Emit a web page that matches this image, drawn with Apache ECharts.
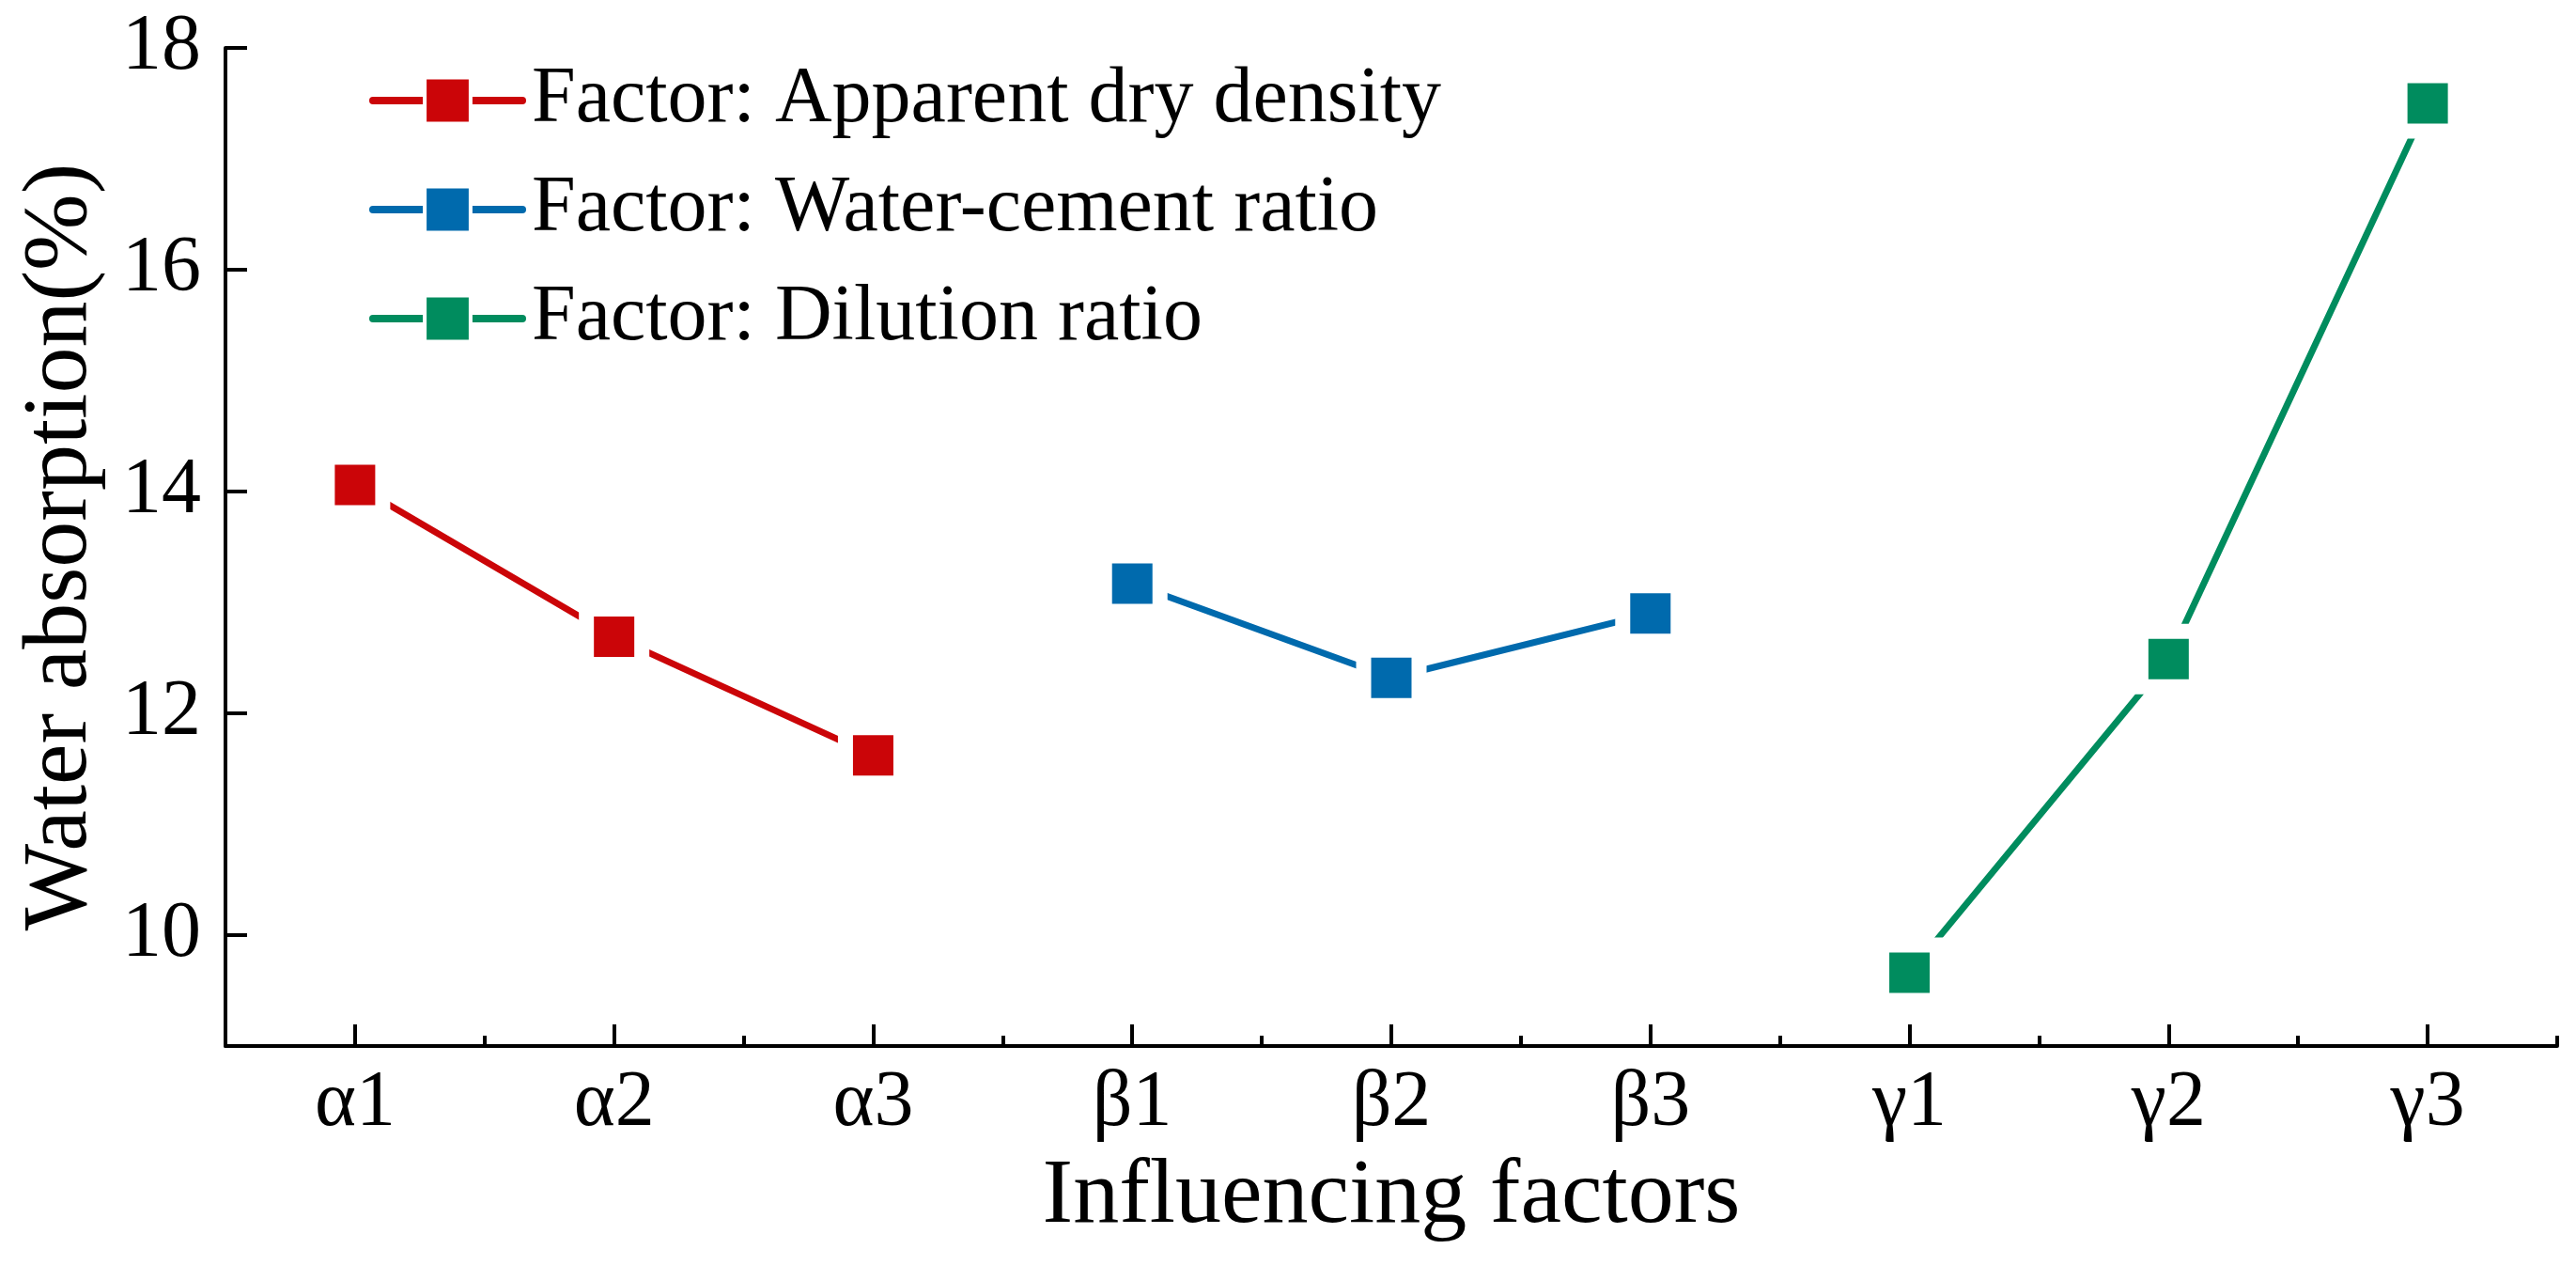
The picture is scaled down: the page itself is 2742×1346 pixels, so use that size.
<!DOCTYPE html>
<html>
<head>
<meta charset="utf-8">
<script src="https://cdn.jsdelivr.net/npm/echarts@6/dist/echarts.min.js"></script>
<style>
html,body{margin:0;padding:0;background:#fff;}
#chart{width:2742px;height:1346px;}
</style>
</head>
<body>
<div id="chart"></div>
<script>
const categories = ['α1','α2','α3','β1','β2','β3','γ1','γ2','γ3'];
const densityValues = [14.06, 12.69, 11.62, null, null, null, null, null, null];
const wcRatioValues = [null, null, null, 13.17, 12.32, 12.90, null, null, null];
const dilutionValues = [null, null, null, null, null, null, 9.66, 12.49, 17.50];
const seriesNames = ['Factor: Apparent dry density', 'Factor: Water-cement ratio', 'Factor: Dilution ratio'];
const seriesColors = ['#CB0508', '#006AAD', '#008C5E'];
const yTicks = [10, 12, 14, 16, 18];

const FONT = '"Liberation Serif", "Times New Roman", serif';
const chart = echarts.init(document.getElementById('chart'));

function mkSeries(name, data, color) {
  return {
    name: name,
    type: 'line',
    data: data,
    connectNulls: false,
    symbol: 'rect',
    symbolSize: 59,
    lineStyle: { color: color, width: 7, cap: 'round' },
    itemStyle: { color: color, borderColor: '#ffffff', borderWidth: 16 },
    emphasis: { disabled: true },
    z: 3
  };
}

chart.setOption({
  animation: false,
  backgroundColor: '#ffffff',
  grid: { left: 240, right: 20, top: 51, bottom: 233, containLabel: false },
  legend: {
    orient: 'vertical',
    left: 388,
    top: 60,
    itemWidth: 159,
    itemHeight: 61,
    itemGap: 32,
    itemStyle: { borderColor: '#ffffff', borderWidth: 4 },
    lineStyle: { width: 8, cap: 'round' },
    textStyle: { fontFamily: FONT, fontSize: 84, color: '#000', padding: [0,0,0,5] },
    data: seriesNames
  },
  xAxis: [
    {
      type: 'category',
      data: categories,
      boundaryGap: true,
      position: 'bottom',
      name: 'Influencing factors',
      nameLocation: 'middle',
      nameGap: 112,
      nameTextStyle: { fontFamily: FONT, fontSize: 98, color: '#000' },
      axisLine: { show: true, lineStyle: { color: '#000', width: 4 } },
      axisTick: { show: true, alignWithLabel: true, inside: true, length: 23, lineStyle: { color: '#000', width: 4 } },
      axisLabel: { fontFamily: FONT, fontSize: 84, color: '#000', margin: 20 },
      splitLine: { show: false }
    },
    {
      type: 'category',
      data: categories,
      boundaryGap: true,
      position: 'bottom',
      axisLine: { show: false },
      axisTick: { show: true, alignWithLabel: false, inside: true, length: 11, lineStyle: { color: '#000', width: 4 } },
      axisLabel: { show: false },
      splitLine: { show: false }
    }
  ],
  yAxis: {
    type: 'value',
    min: 9,
    max: 18,
    interval: 1,
    name: 'Water absorption(%)',
    nameLocation: 'middle',
    nameGap: 126,
    nameTextStyle: { fontFamily: FONT, fontSize: 98, color: '#000' },
    axisLine: { show: true, lineStyle: { color: '#000', width: 4 } },
    axisTick: { show: true, inside: true, length: 23, customValues: yTicks, lineStyle: { color: '#000', width: 4 } },
    axisLabel: { fontFamily: FONT, fontSize: 84, color: '#000', margin: 26, customValues: yTicks },
    splitLine: { show: false }
  },
  series: [
    mkSeries(seriesNames[0], densityValues, seriesColors[0]),
    mkSeries(seriesNames[1], wcRatioValues, seriesColors[1]),
    mkSeries(seriesNames[2], dilutionValues, seriesColors[2])
  ]
});
</script>
</body>
</html>
